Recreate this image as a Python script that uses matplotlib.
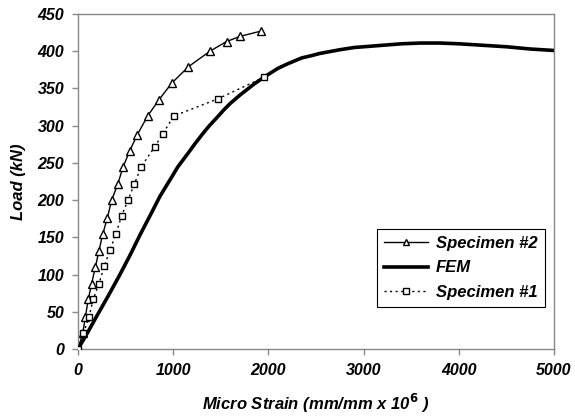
import matplotlib
matplotlib.use("Agg")
from matplotlib import pyplot as plt

# Values
spec2_strain = [0, 49, 77, 108, 143, 182, 220, 259, 308, 353, 416, 472, 542, 623,
                731, 846, 983, 1158, 1385, 1560, 1703, 1920]
spec2_load = [0, 21, 43, 67, 88, 110, 132, 154, 176, 200, 221, 244, 266, 288,
              313, 334, 357, 379, 400, 413, 420, 427]

spec1_strain = [0, 56, 115, 161, 220, 276, 336, 399, 458, 525, 593, 664, 808,
                889, 1007, 1469, 1952]
spec1_load = [0, 21, 43, 67, 88, 111, 133, 155, 179, 200, 222, 245, 272,
              289, 313, 336, 365]

fem_strain = [0, 100, 200, 320, 440, 550, 650, 760, 860, 965, 1050, 1150, 1230,
              1315, 1380, 1460, 1530, 1600, 1700, 1780, 1850, 1952, 2050, 2100,
              2200, 2350, 2450, 2539, 2750, 2900, 3000, 3200, 3400, 3600, 3800,
              4000, 4250, 4500, 4750, 5000]
fem_load = [0, 22, 45, 72, 100, 127, 153, 180, 205, 227, 245, 262, 276,
            290, 300, 311, 321, 330, 341, 349, 356, 365, 373, 377,
            383, 391, 394, 397, 402, 405, 406, 408, 410, 411, 411,
            410, 408, 406, 403, 401]

FONT = "Liberation Sans"
GRAY = "#888888"

fig = plt.figure(figsize=(5.75, 4.18), dpi=100)
ax = fig.add_axes([0.1357, 0.165, 0.8278, 0.8015])

ax.plot(spec2_strain, spec2_load, color="black", lw=1.0, marker="^",
        ms=5.3, mfc="white", mec="black", mew=1.0, label="Specimen #2", zorder=3)
ax.plot(fem_strain, fem_load, color="black", lw=2.6, label="FEM", zorder=2,
        solid_joinstyle="round")
ax.plot(spec1_strain, spec1_load, color="black", lw=1.0, ls=(0, (1.5, 2.5)),
        marker="s", ms=4.8, mfc="white", mec="black", mew=1.0,
        label="Specimen #1", zorder=3)

ax.set_xlim(0, 5000)
ax.set_ylim(0, 450)
ax.set_xticks(range(0, 5001, 1000))
ax.set_yticks(range(0, 451, 50))

for s in ax.spines.values():
    s.set_color(GRAY)
    s.set_linewidth(1.0)
ax.tick_params(direction="out", length=4, color=GRAY, width=1.0, pad=6)

for lab in ax.get_xticklabels() + ax.get_yticklabels():
    lab.set_fontfamily(FONT)
    lab.set_fontweight("bold")
    lab.set_fontstyle("italic")
    lab.set_fontsize(11.5)

ax.set_xlabel("Micro Strain (mm/mm x 10$^{\\mathbf{6}}$ )", family=FONT,
              weight="bold", style="italic", fontsize=12, labelpad=10)
ax.set_ylabel("Load (kN)", family=FONT, weight="bold", style="italic",
              fontsize=12, labelpad=8)

leg = ax.legend(loc="lower right", bbox_to_anchor=(0.981, 0.125),
                prop={"family": FONT, "weight": "bold", "style": "italic", "size": 12},
                fancybox=False, edgecolor="black", framealpha=1, borderpad=0.45,
                handlelength=2.6, handletextpad=0.5, labelspacing=0.55,
                markerscale=0.85, numpoints=1, borderaxespad=0)
leg.get_frame().set_linewidth(0.8)

fig.savefig("out.png", dpi=100)
